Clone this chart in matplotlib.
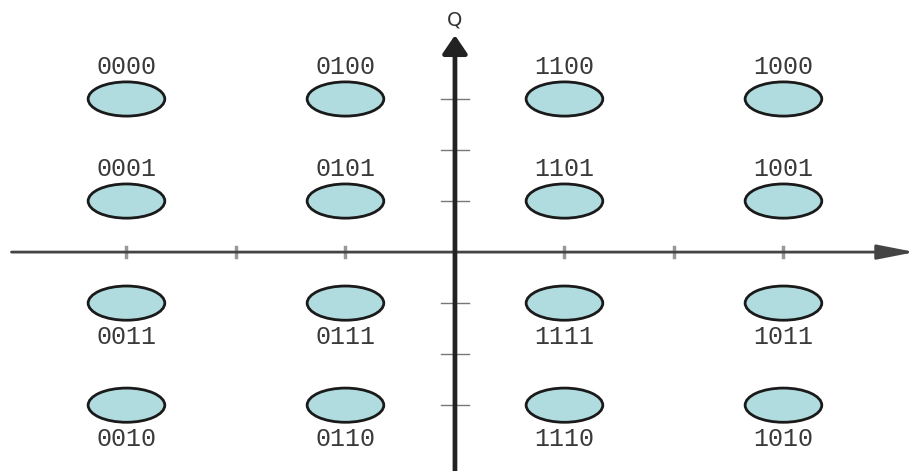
import matplotlib.pyplot as plt
from matplotlib.patches import Ellipse

# constellation points (I, Q) and their bit labels
i_vals = [-3, -1, 1, 3]
q_vals = [3, 1, -1, -3]
labels = [
    ["0000", "0100", "1100", "1000"],
    ["0001", "0101", "1101", "1001"],
    ["0011", "0111", "1111", "1011"],
    ["0010", "0110", "1110", "1010"],
]
x_ticks = [-3, -2, -1, 1, 2, 3]
y_ticks = [-3, -2, -1, 1, 2, 3]

fig = plt.figure(figsize=(9.2, 4.71), dpi=100)
ax = fig.add_axes([0, 0, 1, 1])
ax.set_xlim(-4.155, 4.247)
ax.set_ylim(-4.29, 4.94)
ax.axis("off")

# axes with arrows
ax.annotate("", xy=(4.2, 0), xytext=(-4.05, 0),
            arrowprops=dict(arrowstyle="-|>,head_length=2.3,head_width=0.45",
                            color="#444444", lw=2, shrinkA=0, shrinkB=0))
ax.annotate("", xy=(0, 4.25), xytext=(0, -4.3),
            arrowprops=dict(arrowstyle="-|>,head_length=1.1,head_width=0.75",
                            color="#222222", lw=3.4, shrinkA=0, shrinkB=0))
ax.text(0, 4.55, "Q", ha="center", va="center", fontsize=14, color="#333333",
        family="DejaVu Sans")

for t in x_ticks:
    ax.plot([t, t], [-0.1, 0.1], color="#999999", lw=2.5)
for t in y_ticks:
    ax.plot([-0.13, 0.13], [t, t], color="#777777", lw=1)

for r, q in enumerate(q_vals):
    for c, i in enumerate(i_vals):
        ax.add_patch(Ellipse((i, q), 0.7, 0.67, facecolor="#b0dcdf",
                             edgecolor="#1a1a1a", lw=2))
        dy = 0.62 if q > 0 else -0.66
        ax.text(i, q + dy, labels[r][c], ha="center", va="center",
                fontsize=18, color="#3a3a3a", family="Liberation Mono")

fig.savefig("out.png", dpi=100)
